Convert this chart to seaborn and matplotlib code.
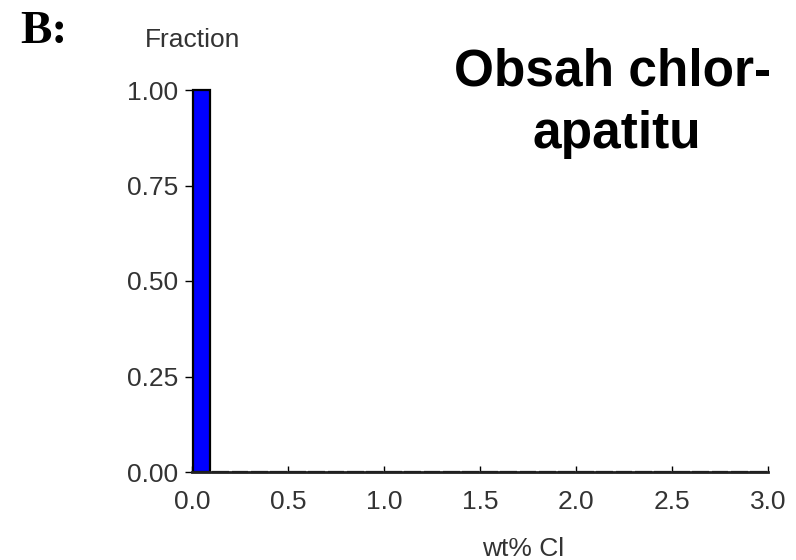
import matplotlib
matplotlib.use("Agg")
import matplotlib.pyplot as plt
import seaborn as sns
import numpy as np

# Data: histogram of wt% Cl, bins of 0.1 from 0.0 to 3.0
bin_edges = [0.0, 0.1, 0.2, 0.3, 0.4, 0.5, 0.6, 0.7, 0.8, 0.9,
             1.0, 1.1, 1.2, 1.3, 1.4, 1.5, 1.6, 1.7, 1.8, 1.9,
             2.0, 2.1, 2.2, 2.3, 2.4, 2.5, 2.6, 2.7, 2.8, 2.9, 3.0]
fraction = [1.0, 0.0, 0.0, 0.0, 0.0, 0.0, 0.0, 0.0, 0.0, 0.0,
            0.0, 0.0, 0.0, 0.0, 0.0, 0.0, 0.0, 0.0, 0.0, 0.0,
            0.0, 0.0, 0.0, 0.0, 0.0, 0.0, 0.0, 0.0, 0.0, 0.0]
x_ticks = [0.0, 0.5, 1.0, 1.5, 2.0, 2.5, 3.0]
y_ticks = [0.00, 0.25, 0.50, 0.75, 1.00]

sns.set_style("white")
plt.rcParams['font.family'] = ['Liberation Sans', 'DejaVu Sans']

W, H = 796, 560
fig = plt.figure(figsize=(W / 100, H / 100), dpi=100)
ax = fig.add_axes([192 / W, 1 - 472 / H, 576 / W, 382 / H])

centers = [(bin_edges[i] + bin_edges[i + 1]) / 2 for i in range(len(fraction))]
sns.histplot(x=centers, weights=fraction, bins=bin_edges, stat="count",
             color="#0000FF", alpha=1.0, edgecolor="black", linewidth=1.6,
             shrink=0.88, ax=ax, clip_on=False)

ax.set_xlim(0, 3.0)
ax.set_ylim(0, 1.0)
ax.set_xticks(x_ticks)
ax.set_xticklabels([f"{v:.1f}" for v in x_ticks])
ax.set_yticks(y_ticks)
ax.set_yticklabels([f"{v:.2f}" for v in y_ticks])
ax.set_xlabel("")
ax.set_ylabel("")

for s in ["top", "right", "left"]:
    ax.spines[s].set_visible(False)
ax.spines["bottom"].set_color("#222222")
ax.spines["bottom"].set_linewidth(2.0)

tick_color = "#333333"
ax.tick_params(axis="x", direction="in", length=4, width=1, color="black",
               pad=13, labelsize=19, labelcolor=tick_color, bottom=True)
ax.tick_params(axis="y", direction="out", length=5, width=1, color="black",
               pad=5, labelsize=19, labelcolor=tick_color, left=True)

# Texts
fig.text(20 / W, 1 - 43 / H, "B:", fontsize=34, fontweight="bold", color="black",
         family=["Liberation Serif", "DejaVu Serif"], va="baseline", ha="left")
fig.text(193 / W, 1 - 47 / H, "Fraction", fontsize=19, color=tick_color,
         ha="center", va="baseline")
fig.text(523 / W, 1 - 556 / H, "wt% Cl", fontsize=19, color=tick_color,
         ha="center", va="baseline")
fig.text(613 / W, 1 - 86 / H, "Obsah chlor-", fontsize=37, fontweight="bold",
         color="black", ha="center", va="baseline")
fig.text(617 / W, 1 - 148 / H, "apatitu", fontsize=37, fontweight="bold",
         color="black", ha="center", va="baseline")

fig.savefig("out.png", dpi=100)
